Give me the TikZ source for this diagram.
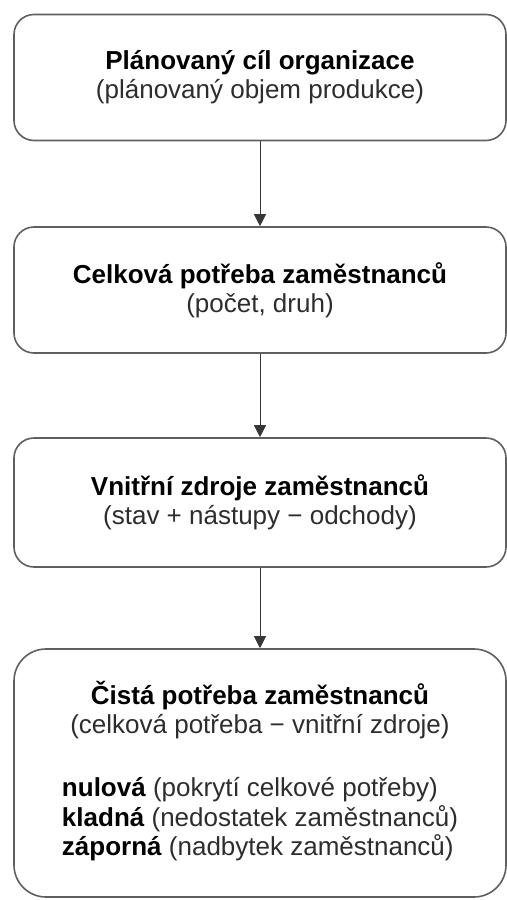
\documentclass[tikz,border=0pt]{standalone}
\usepackage{fontspec}
\setmainfont{Liberation Sans}
\usepackage{xcolor}
\definecolor{boxgray}{RGB}{95,95,95}
\definecolor{arrgray}{RGB}{55,55,55}
\definecolor{subgray}{RGB}{45,45,45}
\usetikzlibrary{arrows.meta, positioning}

\begin{document}
\begin{tikzpicture}[x=0.5pt, y=-0.5pt,
  box/.style={rectangle, rounded corners=10pt, draw=boxgray, line width=0.8pt,
              minimum width=246pt, minimum height=63pt, inner sep=0pt,
              font=\fontsize{13}{14.5}\selectfont, align=center},
  arr/.style={-{Triangle[length=6pt, width=6pt]}, line width=0.5pt, draw=arrgray}
]
\useasboundingbox (0,0) rectangle (507,900);

% Planning steps
\node[box] (goal) at (260,77.5)
  {\textbf{Plánovaný cíl organizace}\\\textcolor{subgray}{(plánovaný objem produkce)}};
\node[box] (total) at (260,290)
  {\textbf{Celková potřeba zaměstnanců}\\\textcolor{subgray}{(počet, druh)}};
\node[box, minimum height=64.5pt] (inner) at (260,502.5)
  {\textbf{Vnitřní zdroje zaměstnanců}\\\textcolor{subgray}{(stav + nástupy − odchody)}};

% Result
\node[box, minimum height=124pt, rounded corners=16pt] (net) at (260,773)
  {\textbf{Čistá potřeba zaměstnanců}\\\textcolor{subgray}{(celková potřeba − vnitřní zdroje)}\\[17pt]
   \begin{tabular}[t]{@{}l@{}}
   \textbf{nulová} \textcolor{subgray}{(pokrytí celkové potřeby)}\\
   \textbf{kladná} \textcolor{subgray}{(nedostatek zaměstnanců)}\\
   \textbf{záporná} \textcolor{subgray}{(nadbytek zaměstnanců)}
   \end{tabular}};

\draw[arr] (goal.south) -- (total.north);
\draw[arr] (total.south) -- (inner.north);
\draw[arr] (inner.south) -- (net.north);
\end{tikzpicture}
\end{document}
